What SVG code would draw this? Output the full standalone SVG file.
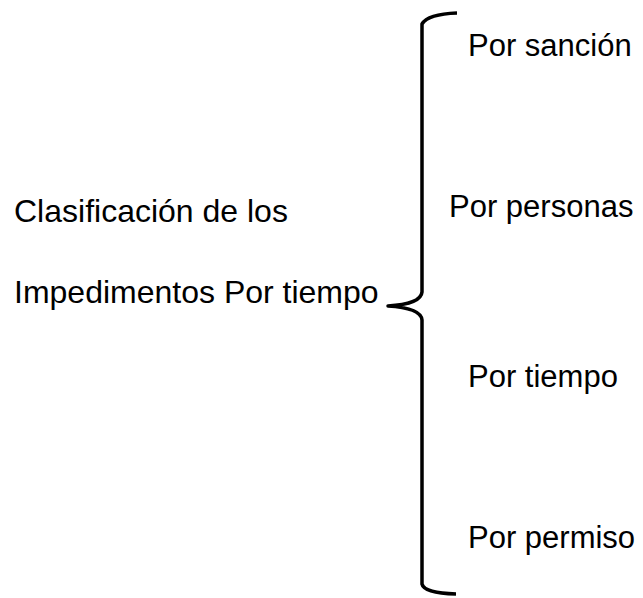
<svg xmlns="http://www.w3.org/2000/svg" width="643" height="598" viewBox="0 0 643 598">
<style>
text { font-family: "Liberation Sans", Arial, sans-serif; font-size: 31px; fill: #000; }
.left { font-size: 32px; }
.brace { fill: none; stroke: #000; stroke-width: 3.5; stroke-linecap: butt; stroke-linejoin: round; }
</style>
<rect width="643" height="598" fill="#fff"/>
<g id="root">
<text class="left" x="14" y="222">Clasificación de los</text>
<text class="left" x="14" y="303">Impedimentos Por tiempo</text>
</g>
<g id="connectors">
<path class="brace" d="M457,13 Q428,14 422,24 L422,292 Q421,304 388,306 Q421,308 422,320 L422,584 Q424,593 456,594"/>
</g>
<g id="n1"><text x="468" y="56">Por sanción</text></g>
<g id="n2"><text x="449" y="217">Por personas</text></g>
<g id="n3"><text x="468" y="387">Por tiempo</text></g>
<g id="n4"><text x="468" y="548">Por permiso</text></g>
</svg>
